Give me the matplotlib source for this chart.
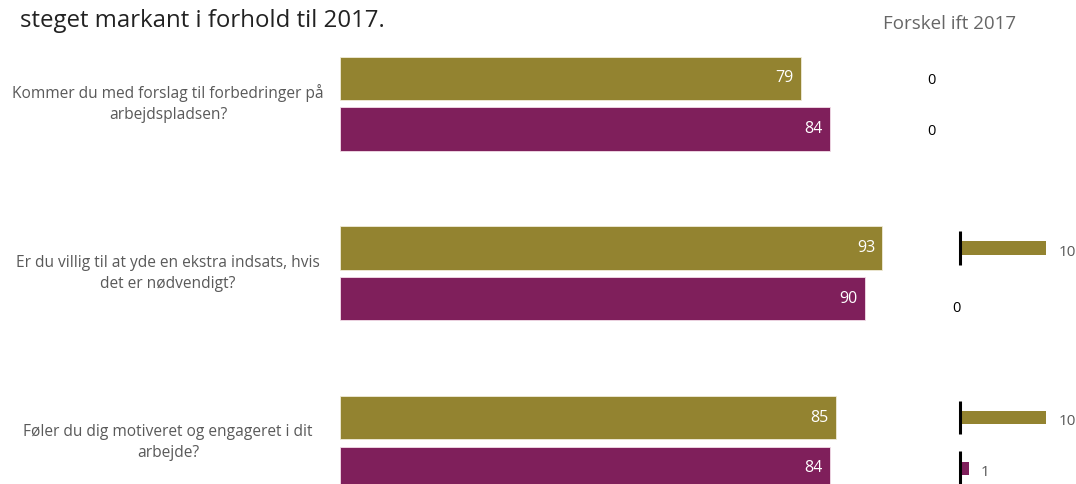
import numpy as np
import matplotlib
matplotlib.use("Agg")
import matplotlib.pyplot as plt

plt.rcParams['font.family'] = ['Open Sans', 'DejaVu Sans']

questions = [
    "Kommer du med forslag til forbedringer på\narbejdspladsen?",
    "Er du villig til at yde en ekstra indsats, hvis\ndet er nødvendigt?",
    "Føler du dig motiveret og engageret i dit\narbejde?",
]
share_a = [79, 93, 85]   # olive bars
share_b = [84, 90, 84]   # purple bars
diff_a = [0, 10, 10]
diff_b = [0, 0, 1]

olive = "#938330"
purple = "#7f1f5b"
grey = "#595959"

W, H = 1076, 484
fig = plt.figure(figsize=(W / 100, H / 100), dpi=100)

# y layout: one unit per question, bars offset above/below the group centre
ytop, ybot = -0.612, 2.243
off = 0.149
bh = 0.254

g = np.arange(len(questions))

ax = fig.add_axes([340 / W, 0, (923 - 340) / W, 1])
ax.barh(g - off, share_a, height=bh, color=olive, edgecolor="#f0ecd8", linewidth=0.6)
ax.barh(g + off, share_b, height=bh, color=purple, edgecolor="#f3dde8", linewidth=0.6)
ax.set_xlim(0, 100)
ax.set_ylim(ybot, ytop)
ax.axis("off")

for i in g:
    ax.annotate(str(share_a[i]), (share_a[i], i - off), xytext=(-5, 0),
                textcoords="offset points", ha="right", va="center",
                color="white", fontsize=11.5)
    ax.annotate(str(share_b[i]), (share_b[i], i + off), xytext=(-5, 0),
                textcoords="offset points", ha="right", va="center",
                color="white", fontsize=11.5)
    ax.text(-172 / 5.83, i, questions[i], ha="center", va="center",
            color=grey, fontsize=11.2, linespacing=1.4)

# difference panel
dx = fig.add_axes([900 / W, 0, (W - 900) / W, 1])
dx.set_xlim(-60 / 8.6, 116 / 8.6)
dx.set_ylim(ybot, ytop)
dx.axis("off")

zero_shift = [-3.3, -0.4, 0]
dh = 0.077
for i in g:
    for y, v, c in [(i - off, diff_a[i], olive), (i + off, diff_b[i], purple)]:
        if v == 0:
            dx.text(zero_shift[i], y + (0.06 if i == 1 else 0.012), "0",
                    ha="center", va="center", color="black", fontsize=10.5)
        else:
            dx.barh(y, v, height=dh, color=c)
            dx.plot([0, 0], [y - 0.1, y + 0.1], color="black", lw=2.2,
                    solid_capstyle="butt")
            dx.annotate(str(v), (v, y), xytext=(9, -3), textcoords="offset points",
                        ha="left", va="center", color=grey, fontsize=11)

fig.text(20 / W, 1 - 27 / H, "steget markant i forhold til 2017.",
         ha="left", va="baseline", fontsize=17.3, color="#222222")
fig.text(883 / W, 1 - 29 / H, "Forskel ift 2017",
         ha="left", va="baseline", fontsize=13.5, color="#666666")

fig.savefig("out.png", dpi=100)
